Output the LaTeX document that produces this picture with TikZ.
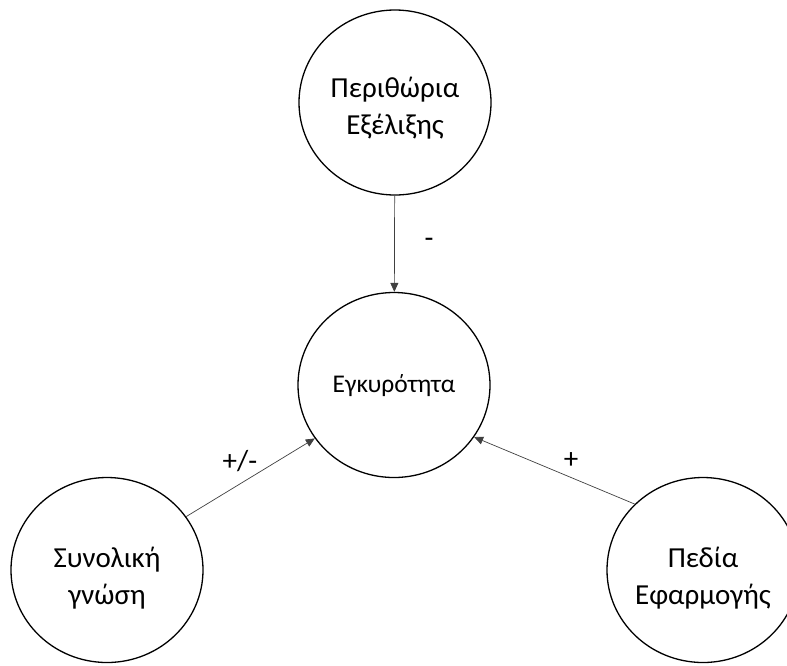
\documentclass[tikz,border=0pt]{standalone}
\usepackage{fontspec}
\setmainfont{Carlito}
\usetikzlibrary{shapes.geometric,arrows.meta}
\begin{document}
\begin{tikzpicture}[x=1pt,y=-1pt,
  factor/.style={ellipse,draw=black,line width=1.3pt,minimum width=192pt,minimum height=185pt,inner sep=0pt},
  bigtext/.style={align=center,font=\fontsize{29}{37}\selectfont},
  smalltext/.style={font=\fontsize{25.5}{30}\selectfont},
  link/.style={draw=black!75,line width=0.7pt,-{Triangle[length=9pt,width=8pt]}},
  sign/.style={font=\fontsize{29}{32}\selectfont}]
\useasboundingbox (0,0) rectangle (787,665);
% the four factors
\node[factor] (margin) at (395,102.5) {};
\node[factor] (valid) at (394,385) {};
\node[factor] (know) at (107,570) {};
\node[factor] (field) at (703,570) {};
% their texts
\node[bigtext] (marginT) at (395,108) {Περιθώρια\\Εξέλιξης};
\node[smalltext] (validT) at (394,386) {Εγκυρότητα};
\node[bigtext] (knowT) at (107,578) {Συνολική\\γνώση};
\node[bigtext] (fieldT) at (703,578) {Πεδία\\Εφαρμογής};
% influences
\draw[link] (margin) -- (valid);
\draw[link] (know.34.7) -- (valid.214.2);
\draw[link] (field.136.3) -- (valid.-33.7);
\node[sign] (s1) at (429,243) {-};
\node[sign] (s2) at (240,461) {+/-};
\node[sign] (s3) at (571,461) {+};
\end{tikzpicture}
\end{document}
